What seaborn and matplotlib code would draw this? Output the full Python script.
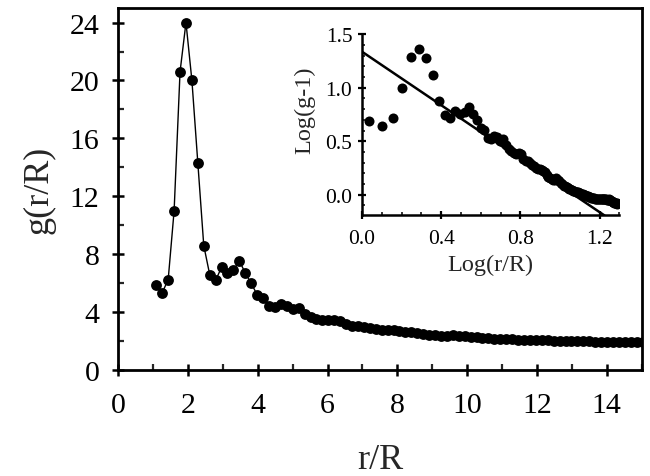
import numpy as np
import matplotlib
matplotlib.use('Agg')
import matplotlib.pyplot as plt
from matplotlib.ticker import MultipleLocator
import seaborn as sns

# radial distribution data (r/R, g(r/R))
r = [1.09, 1.26, 1.43, 1.60, 1.77, 1.94, 2.11, 2.28, 2.45, 2.62,
     2.79, 2.96, 3.13, 3.30, 3.47, 3.64, 3.81, 3.98, 4.15, 4.32,
     4.49, 4.66, 4.83, 5.00, 5.17, 5.34, 5.51, 5.68, 5.85, 6.02,
     6.19, 6.36, 6.53, 6.70, 6.87, 7.04, 7.21, 7.38, 7.55, 7.72,
     7.89, 8.06, 8.23, 8.40, 8.57, 8.74, 8.91, 9.08, 9.25, 9.42,
     9.59, 9.76, 9.93, 10.10, 10.27, 10.44, 10.61, 10.78, 10.95, 11.12,
     11.29, 11.46, 11.63, 11.80, 11.97, 12.14, 12.31, 12.48, 12.65, 12.82,
     12.99, 13.16, 13.33, 13.50, 13.67, 13.84, 14.01, 14.18, 14.35, 14.52,
     14.69, 14.86, 15.03, 15.20, 15.37, 15.54, 15.71, 15.88, 16.05, 16.22,
     16.39, 16.56, 16.73, 16.90, 17.07, 17.24, 17.41, 17.58, 17.75, 17.92,
     18.09, 18.26, 18.43, 18.60, 18.77, 18.94, 19.11, 19.28, 19.45]
g = [5.9, 5.35, 6.25, 11.0, 20.6, 24.0, 20.0, 14.3, 8.6, 6.6,
     6.2, 7.1, 6.7, 6.9, 7.55, 6.7, 6.0, 5.2, 5.0, 4.4,
     4.35, 4.55, 4.45, 4.2, 4.3, 3.9, 3.7, 3.55, 3.45, 3.43,
     3.45, 3.4, 3.15, 3.05, 3.08, 2.98, 2.88, 2.84, 2.76, 2.74,
     2.75, 2.69, 2.65, 2.62, 2.54, 2.48, 2.44, 2.41, 2.38, 2.36,
     2.42, 2.38, 2.34, 2.30, 2.26, 2.22, 2.20, 2.18, 2.16, 2.14,
     2.12, 2.11, 2.09, 2.08, 2.07, 2.06, 2.05, 2.04, 2.03, 2.02,
     2.01, 2.00, 1.99, 1.98, 1.97, 1.97, 1.96, 1.95, 1.94, 1.94,
     1.93, 1.93, 1.92, 1.92, 1.92, 1.91, 1.91, 1.92, 1.92, 1.91,
     1.91, 1.92, 1.92, 1.91, 1.91, 1.90, 1.90, 1.91, 1.90, 1.89,
     1.88, 1.87, 1.86, 1.85, 1.84, 1.84, 1.83, 1.83, 1.82]

# straight-line fit shown in the inset
fit_intercept = 1.337
fit_slope = -1.25
fit_range = [0.0, 1.225]

sns.set_style('ticks')
plt.rcParams['font.family'] = ['Liberation Serif', 'DejaVu Serif']

fig = plt.figure(figsize=(6.5, 4.77), dpi=100)
ax = fig.add_axes([0.182, 0.222, 0.805, 0.759])

sns.lineplot(x=r, y=g, ax=ax, color='black', linewidth=1.0, marker='o',
             markersize=7.8, markeredgewidth=0, markerfacecolor='black',
             sort=False)
ax.set_xlim(0, 15)
ax.set_ylim(0, 25)
ax.xaxis.set_major_locator(MultipleLocator(2))
ax.xaxis.set_minor_locator(MultipleLocator(1))
ax.yaxis.set_major_locator(MultipleLocator(4))
ax.yaxis.set_minor_locator(MultipleLocator(2))
ax.tick_params(which='major', direction='inout', length=9, width=1.8,
               labelsize=21.5, colors='black')
ax.tick_params(axis='x', which='major', pad=11)
ax.tick_params(axis='y', which='major', pad=9)
ax.tick_params(which='minor', direction='in', length=4.5, width=1.6)
for s in ax.spines.values():
    s.set_visible(True)
    s.set_linewidth(2.0)
    s.set_color('black')
ax.set_xlabel('r/R', fontsize=26)
ax.set_ylabel('g(r/R)', fontsize=26)
ax.xaxis.set_label_coords(0.5, -0.2)
ax.yaxis.set_label_coords(-0.12, 0.5)

# inset: log-log of g-1
lr = np.log10(r)
lg = np.log10(np.array(g) - 1)
ins = fig.add_axes([0.557, 0.547, 0.396, 0.379])
ins.set_facecolor('none')
sns.scatterplot(x=lr, y=lg, ax=ins, color='black', s=52, linewidth=0)
fx = np.array(fit_range)
ins.plot(fx, fit_intercept + fit_slope * fx, color='black', linewidth=1.8)
ins.set_xlim(0, 1.3)
ins.set_ylim(-0.19, 1.5)
ins.xaxis.set_major_locator(MultipleLocator(0.4))
ins.xaxis.set_minor_locator(MultipleLocator(0.1))
ins.yaxis.set_major_locator(MultipleLocator(0.5))
ins.yaxis.set_minor_locator(MultipleLocator(0.1))
ins.xaxis.set_major_formatter(plt.FormatStrFormatter('%.1f'))
ins.yaxis.set_major_formatter(plt.FormatStrFormatter('%.1f'))
ins.tick_params(which='major', direction='inout', length=6, width=1.6,
                labelsize=15.5, colors='black')
ins.tick_params(axis='x', which='major', pad=7)
ins.tick_params(axis='y', which='major', pad=4)
ins.tick_params(which='minor', direction='in', length=2.5, width=1.3)
sns.despine(ax=ins)
for s in ['left', 'bottom']:
    ins.spines[s].set_linewidth(1.8)
    ins.spines[s].set_color('black')
ins.set_xlabel('Log(r/R)', fontsize=17.5)
ins.set_ylabel('Log(g-1)', fontsize=17.5)
ins.xaxis.set_label_coords(0.5, -0.215)
ins.yaxis.set_label_coords(-0.18, 0.585)

fig.savefig('out.png', dpi=100)
